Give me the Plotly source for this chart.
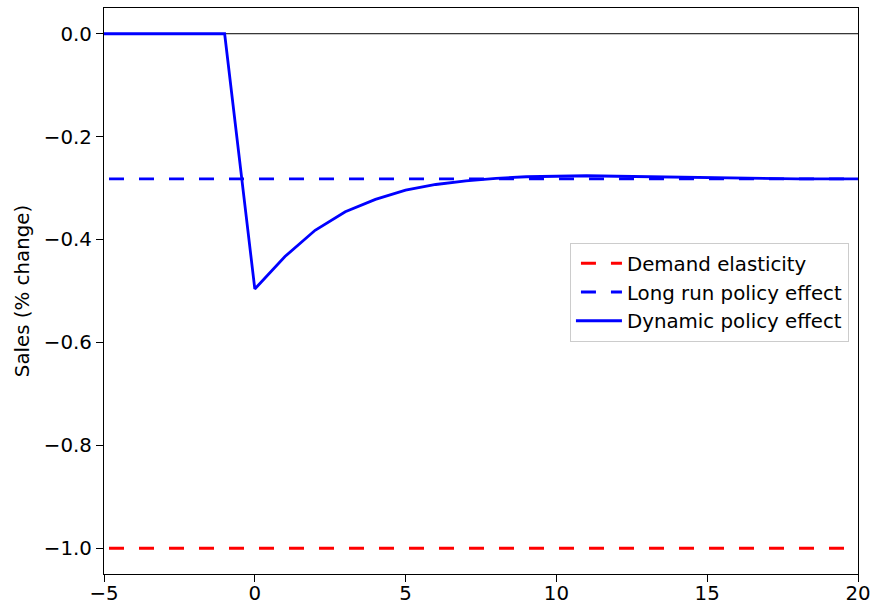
import plotly.graph_objects as go

# ---- data ----
periods = [-5, -4, -3, -2, -1, 0, 1, 2, 3, 4, 5, 6, 7, 8, 9, 10, 11, 12, 13, 14, 15, 16, 17, 18, 19, 20]
dynamic_effect = [0.0, 0.0, 0.0, 0.0, 0.0, -0.496, -0.433, -0.382, -0.346, -0.322, -0.304, -0.293,
                  -0.286, -0.281, -0.278, -0.277, -0.276, -0.277, -0.278, -0.279, -0.280, -0.281,
                  -0.282, -0.282, -0.282, -0.282]
long_run_effect = -0.282
demand_elasticity = -1.0

x_ticks = [-5, 0, 5, 10, 15, 20]
x_tick_labels = ["−5", "0", "5", "10", "15", "20"]
y_ticks = [0.0, -0.2, -0.4, -0.6, -0.8, -1.0]
y_tick_labels = ["0.0", "−0.2", "−0.4", "−0.6", "−0.8", "−1.0"]

FONT = "DejaVu Sans"
FS = 19.8
DASH = "0px,5px,15px,10px"

fig = go.Figure()

fig.add_hline(y=0, line_color="black", line_width=1, layer="below")

fig.add_trace(go.Scatter(
    x=periods, y=[demand_elasticity] * len(periods), mode="lines",
    name="Demand elasticity", legendgroup="a",
    line=dict(color="#ff0000", width=2.8, dash=DASH),
))
fig.add_trace(go.Scatter(
    x=periods, y=[long_run_effect] * len(periods), mode="lines",
    name="Long run policy effect", legendgroup="b",
    line=dict(color="#0000ff", width=2.8, dash=DASH),
))
fig.add_trace(go.Scatter(
    x=periods, y=dynamic_effect, mode="lines",
    name="Dynamic policy effect", legendgroup="c",
    line=dict(color="#0000ff", width=2.8),
))

axis_common = dict(
    showline=True, linecolor="black", linewidth=1.3, mirror=True,
    ticks="outside", ticklen=7, tickwidth=1.3, tickcolor="black",
    showgrid=False, zeroline=False, automargin=False,
    tickfont=dict(family=FONT, size=FS, color="black"),
)

fig.update_xaxes(range=[-5, 20], tickvals=x_ticks, ticktext=x_tick_labels, **axis_common)
try:
    fig.update_xaxes(ticklabelstandoff=-6)
except Exception:
    pass
fig.update_yaxes(range=[-1.05, 0.05], tickvals=y_ticks, ticktext=y_tick_labels,
                 title=dict(text="Sales (% change)", font=dict(family=FONT, size=FS, color="black"),
                            standoff=8),
                 **axis_common)

fig.update_layout(
    width=875, height=609,
    margin=dict(l=104, r=17, t=8, b=35),
    plot_bgcolor="white", paper_bgcolor="white",
    font=dict(family=FONT, size=FS, color="black"),
    legend=dict(
        x=0.988, y=0.585, xanchor="right", yanchor="top",
        bgcolor="rgba(255,255,255,0.8)", bordercolor="#cccccc", borderwidth=1,
        font=dict(family=FONT, size=FS, color="black"),
        itemwidth=46, tracegroupgap=0,
    ),
)

fig.write_html(
    "out.html",
    config={"displayModeBar": False},
    post_script="document.body.style.margin='0';document.body.style.padding='0';"
                "document.documentElement.style.overflow='hidden';",
)
